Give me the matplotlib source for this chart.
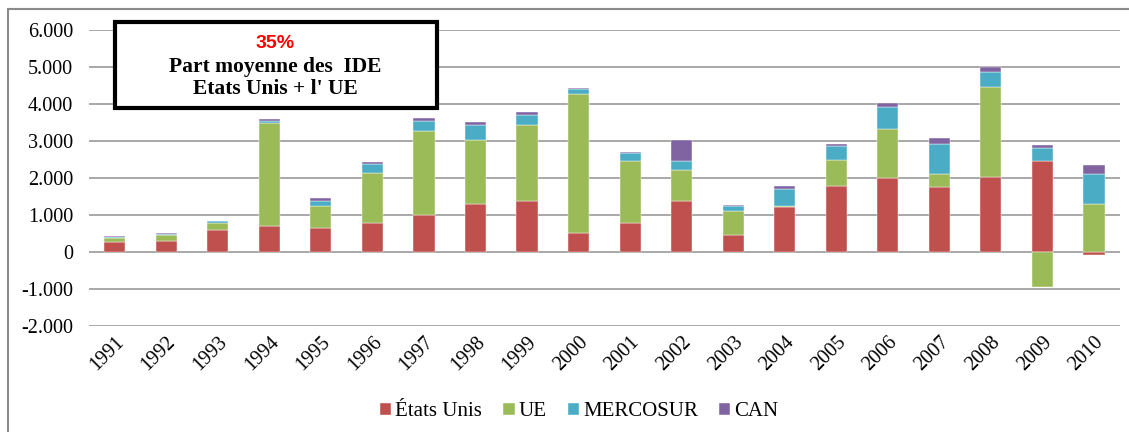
import matplotlib.pyplot as plt
import numpy as np
from matplotlib.ticker import FuncFormatter
from matplotlib.patches import Rectangle

years = ['1991', '1992', '1993', '1994', '1995', '1996', '1997', '1998', '1999', '2000',
         '2001', '2002', '2003', '2004', '2005', '2006', '2007', '2008', '2009', '2010']
etats_unis = [260, 310, 600, 710, 640, 785, 990, 1300, 1380, 505,
              785, 1380, 460, 1215, 1790, 2000, 1765, 2030, 2450, -70]
ue = [120, 155, 180, 2770, 610, 1350, 2290, 1740, 2050, 3760,
      1680, 840, 660, 35, 685, 1335, 350, 2420, -950, 1310]
mercosur = [35, 30, 55, 60, 120, 250, 260, 380, 270, 140,
            200, 235, 125, 460, 400, 585, 800, 405, 360, 810]
can = [5, 15, 15, 45, 100, 40, 70, 100, 80, 30,
       35, 575, 15, 60, 50, 100, 170, 155, 90, 235]

series = [('États Unis', etats_unis, '#C0504D'),
          ('UE', ue, '#9BBB59'),
          ('MERCOSUR', mercosur, '#4BACC6'),
          ('CAN', can, '#8064A2')]

plt.rcParams['font.family'] = ['Liberation Serif', 'DejaVu Serif']

fig = plt.figure(figsize=(11.29, 4.32), dpi=100)
ax = fig.add_axes([0.0788, 0.2454, 0.913, 0.6852])

x = np.arange(len(years))
pos_bottom = np.zeros(len(years))
neg_bottom = np.zeros(len(years))
for name, vals, color in series:
    v = np.array(vals, dtype=float)
    bottom = np.where(v >= 0, pos_bottom, neg_bottom)
    ax.bar(x, v, width=0.41, bottom=bottom, color=color, label=name, zorder=3,
           edgecolor='white', linewidth=0.3)
    pos_bottom += np.where(v >= 0, v, 0)
    neg_bottom += np.where(v < 0, v, 0)

ax.set_xlim(-0.5, len(years) - 0.5)
ax.set_ylim(-2000, 6000)
ax.set_yticks(np.arange(-2000, 6001, 1000))
ax.yaxis.set_major_formatter(FuncFormatter(lambda v, p: f'{int(v):,}'.replace(',', '.')))
ax.grid(axis='y', color='#9a9a9a', linewidth=1.2, zorder=0)
for s in ax.spines.values():
    s.set_visible(False)
ax.tick_params(axis='both', length=0, labelsize=14.5)
ax.tick_params(axis='y', pad=11.5)
ax.set_xticks(x)
ax.set_xticklabels(years, rotation=45, ha='right', rotation_mode='anchor')
ax.tick_params(axis='x', pad=5)

fig.legend(loc='center', bbox_to_anchor=(0.513, 0.047), ncol=4, frameon=False,
           fontsize=15, handlelength=0.55, handleheight=0.55, handletextpad=0.2,
           columnspacing=1.0)

# outer frame
W, H = 1129, 432
fig.patches.append(Rectangle((8 / W, -0.1), 1.2, 1 - 9 / H + 0.1, transform=fig.transFigure,
                             fill=False, edgecolor='#8a8a8a', linewidth=1.5))

# text box
fig.patches.append(Rectangle((115 / W, 1 - 108 / H), (437 - 115) / W, (108 - 22) / H,
                             transform=fig.transFigure, facecolor='white',
                             edgecolor='black', linewidth=3, zorder=5))
cx = 275 / W
fig.text(cx, 1 - 43 / H, '35%', color='red', fontsize=14, fontweight='bold',
         family=['Liberation Sans', 'DejaVu Sans'], ha='center', va='center', zorder=6)
fig.text(cx, 1 - 67 / H, 'Part moyenne des  IDE', fontsize=15.5, fontweight='bold',
         ha='center', va='center', zorder=6)
fig.text(cx, 1 - 89 / H, "Etats Unis + l' UE", fontsize=15.5, fontweight='bold',
         ha='center', va='center', zorder=6)

fig.savefig('out.png', dpi=100)
